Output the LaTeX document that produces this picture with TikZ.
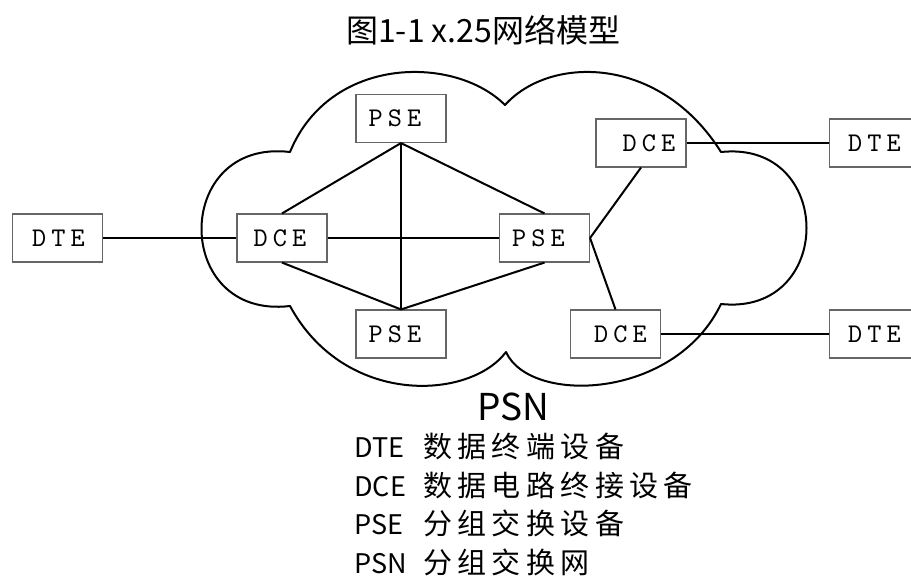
\documentclass[tikz,border=0pt]{standalone}
\usepackage{fontspec}
\newfontfamily\cjk{Noto Sans CJK SC}
\newfontfamily\boxfont{lmmono10-regular.otf}
\def\cjkls#1{\ifx#1\relax\else#1\kern5.4pt\expandafter\cjkls\fi}
\newcommand\bxt[2]{\hbox to 0pt{\hss\kern#1\relax\fontsize{27}{31}\boxfont\selectfont #2\hss}}
\newcommand\lsp[3]{#1\kern5pt #2\kern5pt #3}
\tikzset{
  box/.style={draw=black!60, line width=1.1pt, minimum width=90pt, minimum height=48pt,
    inner sep=0pt},
  conn/.style={line width=2pt, draw=black},
  cloudline/.style={line width=2pt, line join=round, draw=black},
}
\begin{document}
\begin{tikzpicture}[x=1pt,y=-1pt]
\useasboundingbox (0,0) rectangle (911,582);
\clip (0,0) rectangle (911,582);
% cloud
\draw[cloudline] (290,152) .. controls (330,55) and (455,55) .. (505,105)
  .. controls (550,55) and (660,55) .. (721,152)
  .. controls (835,140) and (835,316) .. (721,304)
  .. controls (675,400) and (530,405) .. (506,352)
  .. controls (470,400) and (345,407) .. (290,306)
  .. controls (172,320) and (172,138) .. cycle;
% boxes
\node[box] (dteL) at (57.5,238) {\bxt{2pt}{\lsp DTE}};
\node[box] (dceL) at (282,238) {\bxt{-4pt}{\lsp DCE}};
\node[box] (pseT) at (401,118.5) {\bxt{-12pt}{\lsp PSE}};
\node[box] (pseM) at (544.5,238) {\bxt{-12pt}{\lsp PSE}};
\node[box] (pseB) at (401,334) {\bxt{-12pt}{\lsp PSE}};
\node[box] (dceTR) at (641,143) {\bxt{16pt}{\lsp DCE}};
\node[box] (dceBR) at (615.5,334) {\bxt{10pt}{\lsp DCE}};
\node[box] (dteTR) at (874.5,143) {\bxt{0pt}{\lsp DTE}};
\node[box] (dteBR) at (874.5,334) {\bxt{0pt}{\lsp DTE}};
% connectors
\draw[conn] (dteL) -- (dceL);
\draw[conn] (dceL) -- (pseM);
\draw[conn] (pseT.south) -- (pseB.north);
\draw[conn] (pseT.south) -- (dceL.north);
\draw[conn] (pseT.south) -- (pseM.north);
\draw[conn] (dceL.south) -- (pseB.north);
\draw[conn] (pseM.south) -- (pseB.north);
\draw[conn] (pseM.east) -- (dceTR.south);
\draw[conn] (pseM.east) -- (dceBR.north);
\draw[conn] (dceTR) -- (dteTR);
\draw[conn] (dceBR) -- (dteBR);
% texts
\node[anchor=base west, inner sep=0pt] (title) at (346,42) {\cjk\fontsize{32}{36}\selectfont 图1-1 x.25网络模型};
\node[anchor=base, inner sep=0pt] (psn) at (513,420) {\cjk\fontsize{37}{40}\selectfont PSN};
\node[anchor=base west, inner sep=0pt] (l1) at (354,457) {\cjk\makebox[69pt][l]{\fontsize{27}{30}\selectfont DTE}{\fontsize{29}{30}\selectfont\cjkls 数据终端设备\relax}};
\node[anchor=base west, inner sep=0pt] (l2) at (354,496) {\cjk\makebox[69pt][l]{\fontsize{27}{30}\selectfont DCE}{\fontsize{29}{30}\selectfont\cjkls 数据电路终接设备\relax}};
\node[anchor=base west, inner sep=0pt] (l3) at (354,534) {\cjk\makebox[69pt][l]{\fontsize{27}{30}\selectfont PSE}{\fontsize{29}{30}\selectfont\cjkls 分组交换设备\relax}};
\node[anchor=base west, inner sep=0pt] (l4) at (354,573) {\cjk\makebox[69pt][l]{\fontsize{27}{30}\selectfont PSN}{\fontsize{29}{30}\selectfont\cjkls 分组交换网\relax}};
\end{tikzpicture}
\end{document}
